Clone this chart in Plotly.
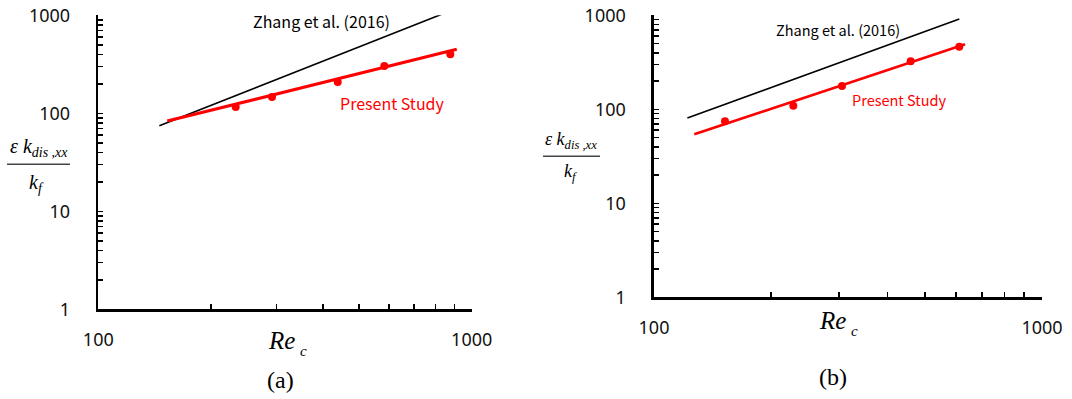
import plotly.graph_objects as go

# ---------------- data ----------------
# panel (a)
re_a_zhang = [145.7, 878.6]
val_a_zhang = [74.7, 1114.0]
re_a_fit = [153.0, 911.9]
val_a_fit = [83.4, 449.8]
re_a_pts = [233.3, 291.9, 437.7, 583.4, 876.5]
val_a_pts = [115.9, 146.6, 208.6, 303.9, 400.0]

# panel (b)
re_b_zhang = [121.9, 612.2]
val_b_zhang = [80.8, 913.0]
re_b_fit = [127.0, 633.4]
val_b_fit = [54.2, 491.5]
re_b_pts = [152.4, 228.6, 305.2, 458.7, 612.2]
val_b_pts = [74.5, 109.2, 177.0, 324.1, 463.4]

x_major = [100, 1000]
x_major_text = ["100", "1000"]
x_minor = [200, 300, 400, 500, 600, 700, 800, 900]
y_major = [1, 10, 100, 1000]
y_major_text = ["1", "10", "100", "1000"]
y_minor = [2, 3, 4, 5, 6, 7, 8, 9, 20, 30, 40, 50, 60, 70, 80, 90,
           200, 300, 400, 500, 600, 700, 800, 900]

W, H = 1072, 399
OFF = 0  # page body margin is removed below
RED = "#ff0000"


def px(x):
    return (x - OFF) / W


def py(y):
    return 1 - (y - OFF) / H


fig = go.Figure()

# panel (a)
fig.add_trace(go.Scatter(x=re_a_zhang, y=val_a_zhang, mode="lines",
                         line=dict(color="black", width=1.6),
                         xaxis="x", yaxis="y", showlegend=False))
fig.add_trace(go.Scatter(x=re_a_fit, y=val_a_fit, mode="lines",
                         line=dict(color=RED, width=3.2),
                         xaxis="x", yaxis="y", showlegend=False))
fig.add_trace(go.Scatter(x=re_a_pts, y=val_a_pts, mode="markers",
                         marker=dict(color=RED, size=8),
                         xaxis="x", yaxis="y", showlegend=False))

# panel (b)
fig.add_trace(go.Scatter(x=re_b_zhang, y=val_b_zhang, mode="lines",
                         line=dict(color="black", width=1.6),
                         xaxis="x2", yaxis="y2", showlegend=False))
fig.add_trace(go.Scatter(x=re_b_fit, y=val_b_fit, mode="lines",
                         line=dict(color=RED, width=2.6),
                         xaxis="x2", yaxis="y2", showlegend=False))
fig.add_trace(go.Scatter(x=re_b_pts, y=val_b_pts, mode="markers",
                         marker=dict(color=RED, size=8),
                         xaxis="x2", yaxis="y2", showlegend=False))

tickfont = dict(family="Noto Sans", size=18, color="#111")


def xaxis(domain, anchor):
    return dict(type="log", range=[2, 3], domain=domain, anchor=anchor,
                showgrid=False, zeroline=False, showline=True,
                linecolor="black", linewidth=2.6, automargin=False,
                tickmode="array", tickvals=x_major, ticktext=x_major_text,
                ticks="inside", ticklen=5, tickwidth=1.6, tickcolor="black",
                minor=dict(tickmode="array", tickvals=x_minor, ticks="inside",
                           ticklen=5, tickwidth=1.6, tickcolor="black",
                           showgrid=False),
                tickfont=tickfont, ticklabelstandoff=12,
                ticklabeloverflow="allow", fixedrange=True)


def yaxis(domain, anchor):
    return dict(type="log", range=[0, 3], domain=domain, anchor=anchor,
                showgrid=False, zeroline=False, showline=True,
                linecolor="black", linewidth=2.6, automargin=False,
                tickmode="array", tickvals=y_major, ticktext=y_major_text,
                ticks="inside", ticklen=5, tickwidth=1.6, tickcolor="black",
                minor=dict(tickmode="array", tickvals=y_minor, ticks="inside",
                           ticklen=5, tickwidth=1.6, tickcolor="black",
                           showgrid=False),
                tickfont=tickfont, ticklabelstandoff=22,
                ticklabeloverflow="allow", fixedrange=True)


fig.update_layout(
    width=W, height=H, autosize=False,
    margin=dict(l=0, r=0, t=0, b=0, pad=0, autoexpand=False),
    paper_bgcolor="white", plot_bgcolor="white",
    hovermode=False,
    xaxis=xaxis([px(98.3), px(471.7)], "y"),
    yaxis=yaxis([py(309.3), py(15.3)], "x"),
    xaxis2=xaxis([px(654), px(1042)], "y2"),
    yaxis2=yaxis([py(297.3), py(15.3)], "x2"),
)

serif = "Liberation Serif"
sans_jp = "Noto Sans CJK JP"


def ann(text, x, y, size, family, color="black", xanchor="center"):
    fig.add_annotation(text=text, x=px(x), y=py(y), xref="paper", yref="paper",
                       xanchor=xanchor, yanchor="middle", showarrow=False,
                       font=dict(size=size, family=family, color=color))


# panel (a) texts
ann("Zhang et al. (2016)", 321.7, 20.7, 16, sans_jp)
ann("Present Study", 392.7, 103.3, 16, sans_jp, RED)
ann("<i>Re</i>", 281, 340, 25, serif)
ann("<i>c</i>", 303, 351, 15, serif)
ann("(a)", 280, 380, 24, serif)
ann("<i>ε k</i><sub><i>dis ,xx</i></sub>", 38.5, 147, 20, serif)
ann("<i>k</i><sub><i>f</i></sub>", 36, 183, 20, serif)
fig.add_shape(type="line", xref="paper", yref="paper",
              x0=px(7), x1=px(70), y0=py(164.3), y1=py(164.3),
              line=dict(color="#444", width=1.5))

# panel (b) texts
ann("Zhang et al. (2016)", 838, 29.3, 14.5, sans_jp)
ann("Present Study", 899.7, 99, 14.5, sans_jp, RED)
ann("<i>Re</i>", 832, 320, 25, serif)
ann("<i>c</i>", 854, 331, 15, serif)
ann("(b)", 833, 376.7, 24, serif)
ann("<i>ε k</i><sub><i>dis ,xx</i></sub>", 570.5, 141, 18, serif)
ann("<i>k</i><sub><i>f</i></sub>", 570, 172.8, 18, serif)
fig.add_shape(type="line", xref="paper", yref="paper",
              x0=px(543), x1=px(600), y0=py(156.2), y1=py(156.2),
              line=dict(color="#444", width=1.5))

fig.write_html(
    "out.html",
    config={"displayModeBar": False, "staticPlot": True},
    post_script="document.body.style.margin='0';"
                "document.body.style.overflow='hidden';",
)
